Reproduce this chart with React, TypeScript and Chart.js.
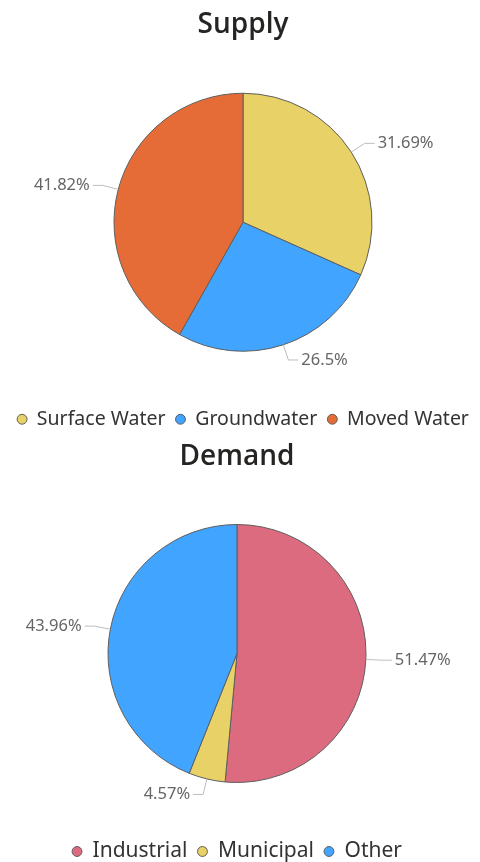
import React, { useEffect, useRef } from "react";
import { Chart, registerables } from "chart.js";

Chart.register(...registerables);

const supplyTitle = "Supply";
const supplyLabels = ["Surface Water", "Groundwater", "Moved Water"];
const supplyValues = [31.69, 26.5, 41.82];
const supplyColors = ["#E8D166", "#41A4FF", "#E66C37"];

const demandTitle = "Demand";
const demandLabels = ["Industrial", "Municipal", "Other"];
const demandValues = [51.47, 4.57, 43.96];
const demandColors = ["#DD6B7F", "#E8D166", "#41A4FF"];

const FONT = "'Noto Sans', 'Open Sans', sans-serif";
const TITLE_FONT = "'Open Sans', 'Noto Sans', sans-serif";

const leaderPlugin = {
  id: "leaderLabels",
  afterDatasetsDraw(chart: any) {
    const ctx = chart.ctx;
    const meta = chart.getDatasetMeta(0);
    const values = chart.data.datasets[0].data;
    ctx.save();
    meta.data.forEach((arc: any, i: number) => {
      const { x, y, startAngle, endAngle, outerRadius } = arc.getProps(
        ["x", "y", "startAngle", "endAngle", "outerRadius"],
        true
      );
      const mid = (startAngle + endAngle) / 2;
      const r0 = outerRadius + 0.5;
      const r1 = outerRadius + 16;
      const x0 = x + Math.cos(mid) * r0;
      const y0 = y + Math.sin(mid) * r0;
      const x1 = x + Math.cos(mid) * r1;
      const y1 = y + Math.sin(mid) * r1;
      const right = Math.cos(mid) >= 0;
      const x2 = x1 + (right ? 10 : -10);
      ctx.beginPath();
      ctx.strokeStyle = "#BDBDBD";
      ctx.lineWidth = 1;
      ctx.moveTo(x0, y0);
      ctx.lineTo(x1, y1);
      ctx.lineTo(x2, y1);
      ctx.stroke();
      ctx.fillStyle = "#666666";
      ctx.font = `16.5px ${FONT}`;
      ctx.textBaseline = "middle";
      ctx.textAlign = right ? "left" : "right";
      ctx.fillText(`${values[i]}%`, x2 + (right ? 3 : -3), y1);
    });
    ctx.restore();
  },
};

function makeConfig(
  title: string,
  labels: string[],
  values: number[],
  colors: string[],
  opts: { padL: number; padR: number; titleTop: number; titleBottom: number; legendSize: number }
): any {
  return {
    type: "pie",
    data: {
      labels,
      datasets: [
        {
          data: values,
          backgroundColor: colors,
          borderColor: "#5E5E5E",
          borderWidth: 1,
          radius: 129,
        },
      ],
    },
    options: {
      responsive: false,
      animation: false,
      events: [],
      layout: { padding: { left: opts.padL, right: opts.padR, top: 0, bottom: 0 } },
      plugins: {
        tooltip: { enabled: false },
        title: {
          display: true,
          text: title,
          color: "#252423",
          font: { family: TITLE_FONT, size: 28, weight: "600", lineHeight: 1.2 },
          padding: { top: opts.titleTop, bottom: opts.titleBottom },
        },
        legend: {
          display: true,
          position: "bottom",
          labels: {
            usePointStyle: true,
            pointStyle: "circle",
            boxWidth: 10,
            boxHeight: 7,
            padding: 10,
            color: "#333333",
            font: { family: FONT, size: opts.legendSize },
          },
        },
      },
    },
    plugins: [leaderPlugin],
  };
}

function PieCanvas(props: { config: any; width: number; height: number; top: number; left: number }) {
  const ref = useRef<HTMLCanvasElement | null>(null);
  useEffect(() => {
    if (!ref.current) return;
    const chart = new Chart(ref.current, props.config);
    return () => chart.destroy();
  }, []);
  return (
    <canvas
      ref={ref}
      width={props.width}
      height={props.height}
      style={{
        position: "absolute",
        left: props.left,
        top: props.top,
        width: props.width,
        height: props.height,
      }}
    />
  );
}

export default function App() {
  const supplyConfig = makeConfig(supplyTitle, supplyLabels, supplyValues, supplyColors, {
    padL: 6,
    padR: 0,
    titleTop: 8,
    titleBottom: 3.4,
    legendSize: 19.5,
  });
  const demandConfig = makeConfig(demandTitle, demandLabels, demandValues, demandColors, {
    padL: 0,
    padR: 6,
    titleTop: 6,
    titleBottom: 2.4,
    legendSize: 21,
  });
  return (
    <div
      style={{
        position: "fixed",
        left: 0,
        top: 0,
        width: 480,
        height: 862,
        overflow: "hidden",
        background: "#ffffff",
      }}
    >
      <PieCanvas config={supplyConfig} width={520} height={439} top={0} left={-20} />
      <PieCanvas config={demandConfig} width={480} height={438} top={434} left={0} />
    </div>
  );
}
